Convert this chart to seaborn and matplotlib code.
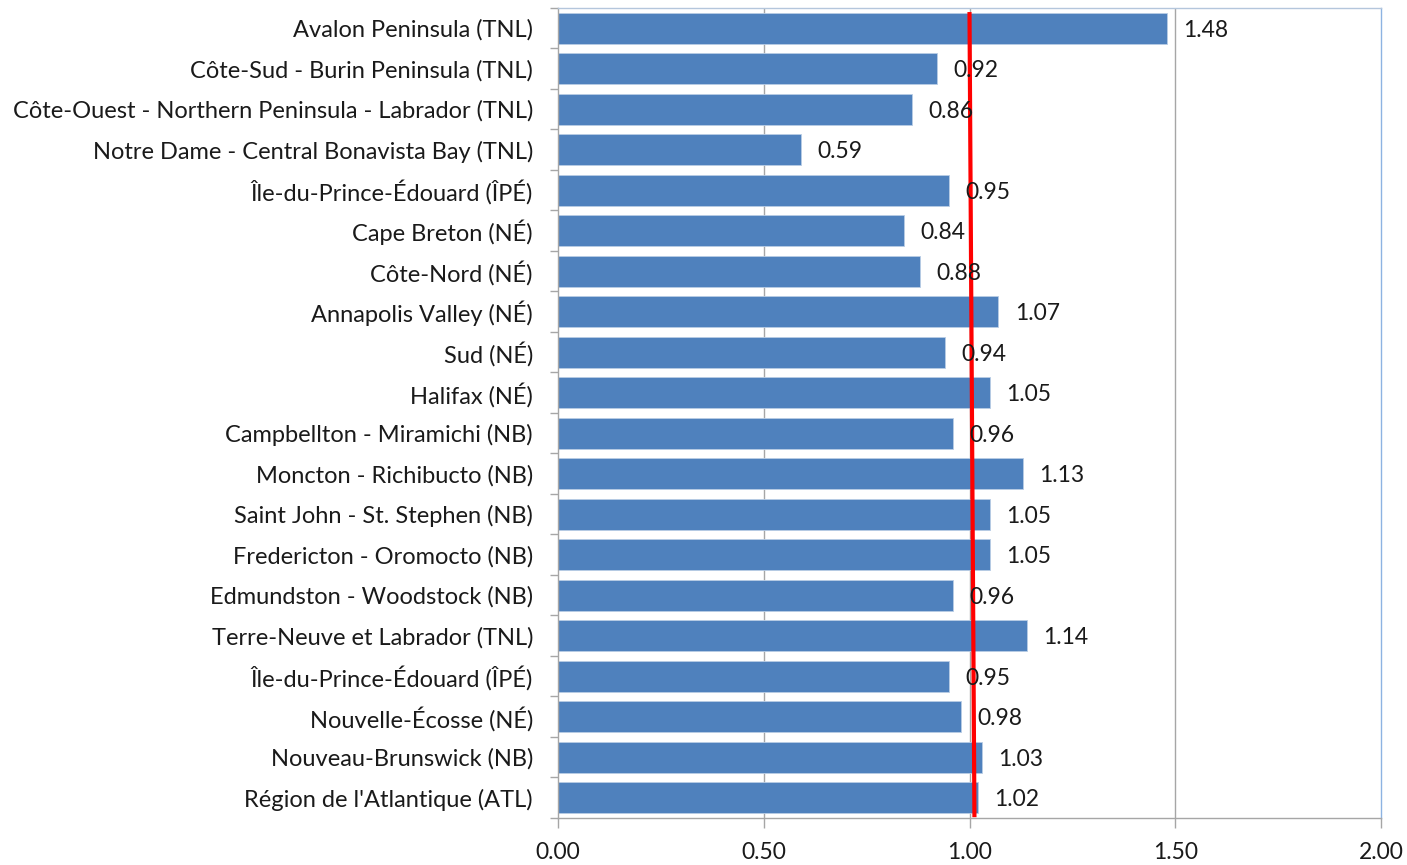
import matplotlib
matplotlib.use("Agg")
import matplotlib.pyplot as plt
import seaborn as sns
import pandas as pd
import numpy as np

categories = [
    "Avalon Peninsula (TNL)",
    "Côte-Sud - Burin Peninsula (TNL)",
    "Côte-Ouest - Northern Peninsula - Labrador (TNL)",
    "Notre Dame - Central Bonavista Bay (TNL)",
    "Île-du-Prince-Édouard (ÎPÉ)",
    "Cape Breton (NÉ)",
    "Côte-Nord (NÉ)",
    "Annapolis Valley (NÉ)",
    "Sud (NÉ)",
    "Halifax (NÉ)",
    "Campbellton - Miramichi (NB)",
    "Moncton - Richibucto (NB)",
    "Saint John - St. Stephen (NB)",
    "Fredericton - Oromocto (NB)",
    "Edmundston - Woodstock (NB)",
    "Terre-Neuve et Labrador (TNL)",
    "Île-du-Prince-Édouard (ÎPÉ)",
    "Nouvelle-Écosse (NÉ)",
    "Nouveau-Brunswick (NB)",
    "Région de l'Atlantique (ATL)",
]
values = [1.48, 0.92, 0.86, 0.59, 0.95, 0.84, 0.88, 1.07, 0.94, 1.05,
          0.96, 1.13, 1.05, 1.05, 0.96, 1.14, 0.95, 0.98, 1.03, 1.02]
value_labels = ["1.48", "0.92", "0.86", "0.59", "0.95", "0.84", "0.88", "1.07", "0.94", "1.05",
                "0.96", "1.13", "1.05", "1.05", "0.96", "1.14", "0.95", "0.98", "1.03", "1.02"]
ref_line_x = [1.00, 1.012]
x_ticks = [0.0, 0.5, 1.0, 1.5, 2.0]
x_tick_labels = ["0.00", "0.50", "1.00", "1.50", "2.00"]

sns.set_style("white")
plt.rcParams['font.family'] = ['Lato', 'DejaVu Sans']

# unique key per row (two rows share the same label text)
df = pd.DataFrame({"key": [f"r{i}" for i in range(len(categories))], "val": values})

fig = plt.figure(figsize=(14.07, 8.65), dpi=100)
ax = fig.add_axes([558/1407, 1-818/865, (1381-558)/1407, (818-8)/865])

ax.set_xlim(0, 2.0)
for xv in x_ticks[1:-1]:
    ax.axvline(xv, color="#A6A6A6", lw=1.0, zorder=0)

sns.barplot(data=df, x="val", y="key", orient="h", color="#4F81BD", saturation=1,
            width=0.77, edgecolor="#B9CDE5", linewidth=0.6, ax=ax, zorder=2)

n = len(categories)
ax.set_ylim(n - 0.5, -0.5)
ax.plot([ref_line_x[0], ref_line_x[1]], [-0.4, n - 0.52], color="#FF0000", lw=3, zorder=4,
        solid_capstyle="butt")

txt_color = "#1A1A1A"
for i, (v, lab) in enumerate(zip(values, value_labels)):
    ax.text(v + 0.040, i + 0.05, lab, va="center", ha="left", fontsize=16.5, color=txt_color, zorder=5)

ax.set_xticks(x_ticks)
ax.set_xticklabels(x_tick_labels, fontsize=16.5, color=txt_color)
ax.set_yticks(range(n))
ax.set_yticklabels(categories, fontsize=17, color=txt_color)
ax.set_yticks(np.arange(-0.5, n, 1.0), minor=True)
ax.tick_params(axis="y", which="major", length=0, pad=18)
ax.tick_params(axis="y", which="minor", length=6, color="#A6A6A6", width=1, left=True)
ax.tick_params(axis="x", which="major", length=7, color="#A6A6A6", width=1, bottom=True, pad=10)
ax.set_xlabel("")
ax.set_ylabel("")

for s in ["left", "bottom"]:
    ax.spines[s].set_color("#A6A6A6")
    ax.spines[s].set_linewidth(1)
ax.spines["top"].set_color("#B4C6DC")
ax.spines["right"].set_color("#8DB3E2")
ax.spines["top"].set_linewidth(1)
ax.spines["right"].set_linewidth(1)

fig.savefig("out.png", dpi=100, facecolor="white")
